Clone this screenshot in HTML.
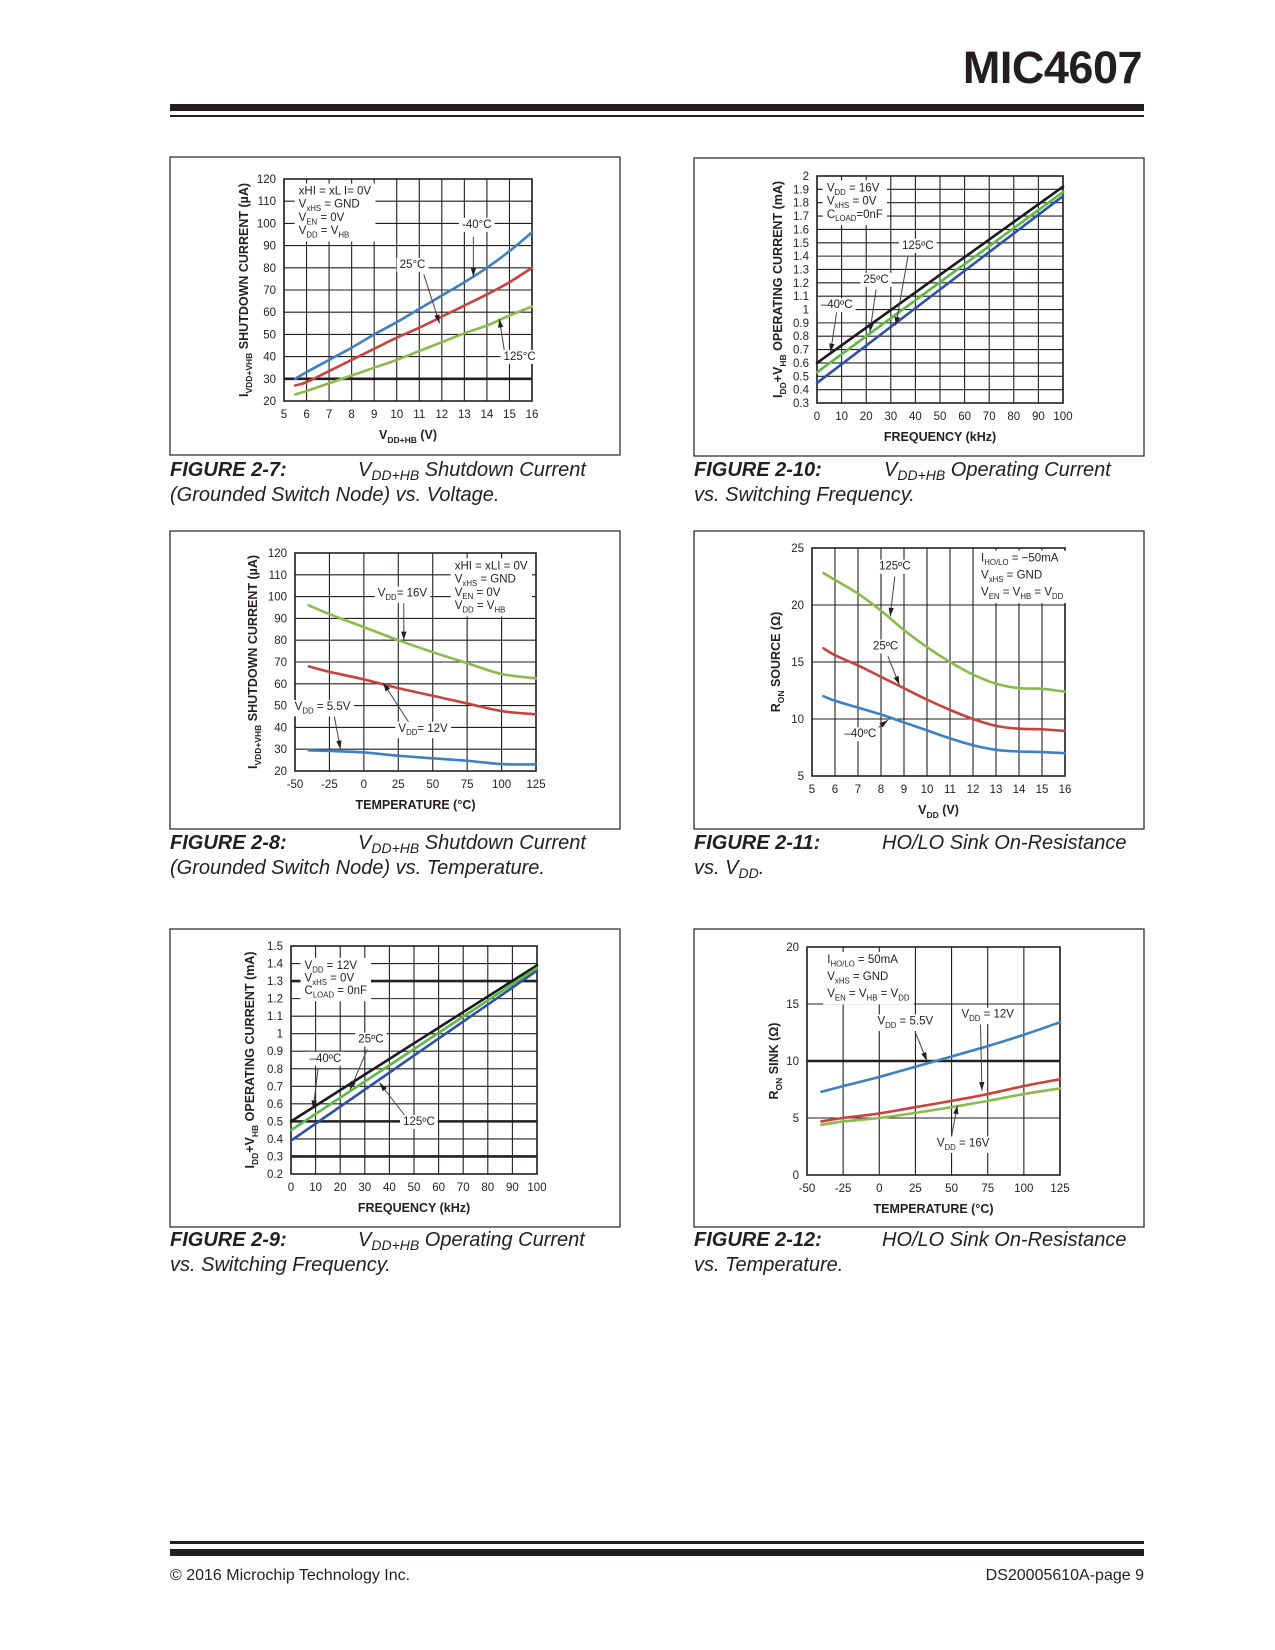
<!DOCTYPE html>
<html><head><meta charset="utf-8">
<style>
html,body{margin:0;padding:0;background:#fff;}
body{width:1275px;height:1650px;position:relative;overflow:hidden;font-family:"Liberation Sans",Arial,sans-serif;color:#231f20;}
.abs{position:absolute;white-space:nowrap;}
.cap{font-size:20px;font-style:italic;}
.cap b{font-weight:bold;}
sub{font-size:0.7em;vertical-align:-0.3em;line-height:0;}
</style></head>
<body>
<div class="abs" style="right:133px;top:42px;font-size:45px;font-weight:bold;letter-spacing:-0.5px;">MIC4607</div>
<div class="abs" style="left:170px;top:104px;width:974px;height:7px;background:#231f20;"></div>
<div class="abs" style="left:170px;top:115px;width:974px;height:2px;background:#231f20;"></div>

<svg id="charts" width="1275" height="1650" style="position:absolute;left:0;top:0;" xmlns="http://www.w3.org/2000/svg"></svg>

<div class="abs cap" style="left:170px;top:459px;"><b>FIGURE 2-7:</b></div>
<div class="abs cap" style="left:358px;top:459px;">V<sub>DD+HB</sub> Shutdown Current</div>
<div class="abs cap" style="left:170px;top:484px;">(Grounded Switch Node) vs. Voltage.</div>

<div class="abs cap" style="left:694px;top:459px;"><b>FIGURE 2-10:</b></div>
<div class="abs cap" style="left:884px;top:459px;">V<sub>DD+HB</sub> Operating Current</div>
<div class="abs cap" style="left:694px;top:484px;">vs. Switching Frequency.</div>

<div class="abs cap" style="left:170px;top:832px;"><b>FIGURE 2-8:</b></div>
<div class="abs cap" style="left:358px;top:832px;">V<sub>DD+HB</sub> Shutdown Current</div>
<div class="abs cap" style="left:170px;top:857px;">(Grounded Switch Node) vs. Temperature.</div>

<div class="abs cap" style="left:694px;top:832px;"><b>FIGURE 2-11:</b></div>
<div class="abs cap" style="left:882px;top:832px;">HO/LO Sink On-Resistance</div>
<div class="abs cap" style="left:694px;top:857px;">vs. V<sub>DD</sub>.</div>

<div class="abs cap" style="left:170px;top:1229px;"><b>FIGURE 2-9:</b></div>
<div class="abs cap" style="left:358px;top:1229px;">V<sub>DD+HB</sub> Operating Current</div>
<div class="abs cap" style="left:170px;top:1254px;">vs. Switching Frequency.</div>

<div class="abs cap" style="left:694px;top:1229px;"><b>FIGURE 2-12:</b></div>
<div class="abs cap" style="left:882px;top:1229px;">HO/LO Sink On-Resistance</div>
<div class="abs cap" style="left:694px;top:1254px;">vs. Temperature.</div>

<div class="abs" style="left:170px;top:1541px;width:974px;height:3px;background:#231f20;"></div>
<div class="abs" style="left:170px;top:1549px;width:974px;height:7px;background:#231f20;"></div>
<div class="abs" style="left:170px;top:1567px;font-size:16px;">© 2016 Microchip Technology Inc.</div>
<div class="abs" style="right:131px;top:1567px;font-size:16px;">DS20005610A-page 9</div>

<script>
// ---- Figure 2-7 data ----
const f7_x = [5.5,6,7,8,9,10,11,12,13,14,15,16];
const f7_m40 = [30,33,38.5,44,50,55.5,61.5,67.5,73.5,80,87.5,96];
const f7_25 = [27,28.5,33.5,38.5,43.5,48.5,53,58,63,68,73.5,80];
const f7_125 = [23,24.5,28,31.5,35,38.5,42.5,46.5,50.5,54,58.5,62.5];
const f7_xticks = [5,6,7,8,9,10,11,12,13,14,15,16];
const f7_yticks = [20,30,40,50,60,70,80,90,100,110,120];
// ---- Figure 2-10 data ----
const f10_x = [0,50,100];
const f10_m40 = [0.6,1.26,1.92];
const f10_25 = [0.53,1.205,1.88];
const f10_125 = [0.45,1.15,1.85];
const f10_xticks = [0,10,20,30,40,50,60,70,80,90,100];
const f10_yticks = [0.3,0.4,0.5,0.6,0.7,0.8,0.9,1,1.1,1.2,1.3,1.4,1.5,1.6,1.7,1.8,1.9,2];
// ---- Figure 2-8 data ----
const f8_x = [-40,-25,0,25,50,75,100,125];
const f8_16v = [96,92,86,80,74.5,69.5,64.5,62.5];
const f8_12v = [68,65.5,62,58,54.5,51,47.5,46];
const f8_55v = [29.5,29.2,28.5,27,25.8,24.7,23.2,23];
const f8_xticks = [-50,-25,0,25,50,75,100,125];
const f8_yticks = [20,30,40,50,60,70,80,90,100,110,120];
// ---- Figure 2-11 data ----
const f11_x = [5.5,6,7,8,9,10,11,12,13,14,15,16];
const f11_125 = [22.8,22.2,21,19.5,17.8,16.3,15,13.9,13.1,12.7,12.65,12.4];
const f11_25 = [16.2,15.6,14.7,13.7,12.7,11.7,10.8,10,9.4,9.15,9.1,8.95];
const f11_m40 = [12,11.6,11,10.4,9.7,9,8.3,7.7,7.3,7.15,7.1,7];
const f11_xticks = [5,6,7,8,9,10,11,12,13,14,15,16];
const f11_yticks = [5,10,15,20,25];
// ---- Figure 2-9 data ----
const f9_x = [0,50,100];
const f9_m40 = [0.5,0.945,1.39];
const f9_25 = [0.45,0.9125,1.375];
const f9_125 = [0.39,0.875,1.36];
const f9_xticks = [0,10,20,30,40,50,60,70,80,90,100];
const f9_yticks = [0.2,0.3,0.4,0.5,0.6,0.7,0.8,0.9,1,1.1,1.2,1.3,1.4,1.5];
// ---- Figure 2-12 data ----
const f12_x = [-40,-25,0,25,50,75,100,125];
const f12_55v = [7.3,7.8,8.6,9.5,10.4,11.3,12.3,13.4];
const f12_12v = [4.7,5.0,5.4,5.95,6.5,7.1,7.8,8.4];
const f12_16v = [4.4,4.7,5.0,5.45,5.95,6.5,7.1,7.6];
const f12_xticks = [-50,-25,0,25,50,75,100,125];
const f12_yticks = [0,5,10,15,20];

const NS = "http://www.w3.org/2000/svg";
const root = document.getElementById('charts');
const FONT = '"Liberation Sans", Arial, sans-serif';
const INK = '#231f20';

function mk(tag, name, parent) {
  const e = document.createElementNS(NS, tag);
  
  
  parent.appendChild(e);
  return e;
}
function attrs(e, a) { for (const k in a) e.setAttribute(k, a[k]); return e; }

function richText(parent, name, x, y, str, size, anchor, weight) {
  const t = mk('text', name, parent);
  attrs(t, {x: x, y: y, 'font-size': size, 'font-family': FONT, fill: INK, 'text-anchor': anchor || 'start', 'font-weight': weight || 'normal'});
  const parts = str.split(/(_\{[^}]*\})/);
  let shifted = false;
  parts.forEach(p => {
    if (!p) return;
    const ts = document.createElementNS(NS, 'tspan');
    if (p.startsWith('_{')) {
      ts.textContent = p.slice(2, -1);
      ts.setAttribute('font-size', size * 0.68);
      ts.setAttribute('dy', size * 0.3);
      shifted = true;
    } else {
      ts.textContent = p;
      if (shifted) { ts.setAttribute('dy', -size * 0.3); shifted = false; }
    }
    t.appendChild(ts);
  });
  return t;
}
function backed(parent, name, x, y, str, size, anchor) {
  const g = mk('g', name + '-group', parent);
  const t = richText(g, name, x, y, str, size, anchor);
  const b = t.getBBox();
  const r = document.createElementNS(NS, 'rect');
  
  
  attrs(r, {x: b.x - 3, y: b.y - 1, width: b.width + 6, height: b.height + 2, fill: '#fff'});
  g.insertBefore(r, t);
  return g;
}
function smoothPath(pts) {
  let d = 'M' + pts[0][0] + ',' + pts[0][1];
  for (let i = 0; i < pts.length - 1; i++) {
    const p0 = pts[i - 1] || pts[i], p1 = pts[i], p2 = pts[i + 1], p3 = pts[i + 2] || p2;
    const c1 = [p1[0] + (p2[0] - p0[0]) / 6, p1[1] + (p2[1] - p0[1]) / 6];
    const c2 = [p2[0] - (p3[0] - p1[0]) / 6, p2[1] - (p3[1] - p1[1]) / 6];
    d += ' C' + c1 + ' ' + c2 + ' ' + p2;
  }
  return d;
}

function chart(cfg) {
  const g = mk('g', cfg.id, root);
  const box = mk('rect', cfg.id + '-frame', g);
  attrs(box, {x: cfg.box[0], y: cfg.box[1], width: cfg.box[2], height: cfg.box[3], fill: '#fff', stroke: INK, 'stroke-width': 1.2});
  const [L, T, R, B] = cfg.plot;
  const xs = v => L + (v - cfg.xr[0]) / (cfg.xr[1] - cfg.xr[0]) * (R - L);
  const ys = v => B - (v - cfg.yr[0]) / (cfg.yr[1] - cfg.yr[0]) * (B - T);
  const grid = mk('g', cfg.id + '-grid', g);
  cfg.xgrid.forEach(v => {
    const l = mk('line', 'x-gridline', grid);
    attrs(l, {x1: xs(v), x2: xs(v), y1: T, y2: B, stroke: INK, 'stroke-width': 1.1});
  });
  cfg.ygrid.forEach(v => {
    const l = mk('line', 'y-gridline', grid);
    const thick = (cfg.thick || []).indexOf(v) >= 0;
    attrs(l, {x1: L, x2: R, y1: ys(v), y2: ys(v), stroke: INK, 'stroke-width': thick ? 2.6 : 1.1});
  });
  const fr = mk('rect', cfg.id + '-plot-border', g);
  attrs(fr, {x: L, y: T, width: R - L, height: B - T, fill: 'none', stroke: INK, 'stroke-width': 1.6});
  cfg.xticks.forEach(v => {
    const t = mk('text', 'x-tick-label', g);
    attrs(t, {x: xs(v), y: B + 17, 'font-size': 11.5, 'font-family': FONT, fill: INK, 'text-anchor': 'middle'});
    t.textContent = String(v);
  });
  cfg.yticks.forEach(v => {
    const t = mk('text', 'y-tick-label', g);
    attrs(t, {x: L - 8, y: ys(v) + 4, 'font-size': 11.5, 'font-family': FONT, fill: INK, 'text-anchor': 'end'});
    t.textContent = String(v);
  });
  richText(g, 'x-axis-title', (L + R) / 2, B + 38, cfg.xtitle, 12.5, 'middle', 'bold');
  const yt = richText(g, 'y-axis-title', 0, 0, cfg.ytitle, 12.5, 'middle', 'bold');
  yt.setAttribute('transform', 'translate(' + (L - cfg.ytoff) + ',' + ((T + B) / 2) + ') rotate(-90)');
  const lg = mk('g', 'conditions-box', g);
  const lines = cfg.cond.map((s, i) => richText(lg, 'condition-text', xs(cfg.condAt[0]), ys(cfg.condAt[1]) + i * cfg.condGap, s, 11.5, 'start'));
  let x0 = 1e9, y0 = 1e9, x1 = -1e9, y1 = -1e9;
  lines.forEach(t => { const b = t.getBBox(); x0 = Math.min(x0, b.x); y0 = Math.min(y0, b.y); x1 = Math.max(x1, b.x + b.width); y1 = Math.max(y1, b.y + b.height); });
  const cb = document.createElementNS(NS, 'rect');
  
  
  attrs(cb, {x: x0 - 4, y: y0 - 2, width: x1 - x0 + 8, height: y1 - y0 + 4, fill: '#fff'});
  lg.insertBefore(cb, lg.firstChild);
  cfg.series.forEach(s => {
    const pts = cfg.x.map((v, i) => [xs(v), ys(s.data[i])]);
    const p = mk('path', s.name, g);
    attrs(p, {d: smoothPath(pts), fill: 'none', stroke: s.color, 'stroke-width': 2.6, 'stroke-linecap': 'round'});
  });
  cfg.notes.forEach(n => {
    const a = mk('line', n.name + '-arrow', g);
    const ax1 = xs(n.from[0]), ay1 = ys(n.from[1]), ax2 = xs(n.to[0]), ay2 = ys(n.to[1]);
    attrs(a, {x1: ax1, y1: ay1, x2: ax2, y2: ay2, stroke: '#444', 'stroke-width': 1});
    const ang = Math.atan2(ay2 - ay1, ax2 - ax1);
    const h = mk('polygon', n.name + '-arrowhead', g);
    const p1 = [ax2 - 9 * Math.cos(ang - 0.3), ay2 - 9 * Math.sin(ang - 0.3)];
    const p2 = [ax2 - 9 * Math.cos(ang + 0.3), ay2 - 9 * Math.sin(ang + 0.3)];
    attrs(h, {points: ax2 + ',' + ay2 + ' ' + p1 + ' ' + p2, fill: INK});
    backed(g, n.name, xs(n.at[0]), ys(n.at[1]), n.text, 11.5, 'middle');
  });
}
function range(a, b, s) { const r = []; for (let v = a; v <= b + 1e-9; v += s) r.push(Math.round(v * 100) / 100); return r; }

const BLUE = '#3d80c3', RED = '#c8423f', GREEN = '#8bbb4b', BLACK = '#1a1a1a', DBLUE = '#3050a8', LGREEN = '#5cb947';

chart({id: 'fig-2-7', box: [170, 157, 450, 298], plot: [284, 179, 532, 401], xr: [5, 16], yr: [20, 120],
  xgrid: range(5, 16, 1), ygrid: range(20, 120, 10), thick: [30], xticks: f7_xticks, yticks: f7_yticks,
  xtitle: 'V_{DD+HB} (V)', ytitle: 'I_{VDD+VHB} SHUTDOWN CURRENT (µA)', ytoff: 36,
  cond: ['xHI = xL I= 0V', 'V_{xHS} = GND', 'V_{EN} = 0V', 'V_{DD} = V_{HB}'], condAt: [5.65, 113], condGap: 13.2,
  x: f7_x, series: [{name: 'series-minus40c', data: f7_m40, color: BLUE}, {name: 'series-25c', data: f7_25, color: RED}, {name: 'series-125c', data: f7_125, color: GREEN}],
  notes: [{name: 'label-minus40c', text: '-40°C', at: [13.55, 98], from: [13.4, 94], to: [13.4, 76]},
          {name: 'label-25c', text: '25°C', at: [10.7, 80], from: [11.2, 77], to: [11.9, 55]},
          {name: 'label-125c', text: '125°C', at: [15.45, 38.5], from: [14.8, 41], to: [14.55, 57]}]});

chart({id: 'fig-2-10', box: [694, 158, 450, 298], plot: [817, 176, 1063, 403], xr: [0, 100], yr: [0.3, 2],
  xgrid: range(0, 100, 10), ygrid: range(0.3, 2, 0.1), xticks: f10_xticks, yticks: f10_yticks,
  xtitle: 'FREQUENCY (kHz)', ytitle: 'I_{DD}+V_{HB} OPERATING CURRENT (mA)', ytoff: 35,
  cond: ['V_{DD} = 16V', 'V_{xHS} = 0V', 'C_{LOAD}=0nF'], condAt: [4, 1.885], condGap: 13.2,
  x: f10_x, series: [{name: 'series-minus40c', data: f10_m40, color: BLACK}, {name: 'series-125c', data: f10_125, color: DBLUE}, {name: 'series-25c', data: f10_25, color: LGREEN}],
  notes: [{name: 'label-minus40c', text: '–40ºC', at: [8, 1.01], from: [8, 0.98], to: [5.5, 0.68]},
          {name: 'label-25c', text: '25ºC', at: [24, 1.2], from: [24, 1.15], to: [21.5, 0.83]},
          {name: 'label-125c', text: '125ºC', at: [41, 1.455], from: [37, 1.4], to: [32, 0.88]}]});

chart({id: 'fig-2-8', box: [170, 531, 450, 298], plot: [295, 553, 536, 771], xr: [-50, 125], yr: [20, 120],
  xgrid: range(-50, 125, 25), ygrid: range(20, 120, 10), xticks: f8_xticks, yticks: f8_yticks,
  xtitle: 'TEMPERATURE (°C)', ytitle: 'I_{VDD+VHB} SHUTDOWN CURRENT (µA)', ytoff: 38,
  cond: ['xHI = xLI = 0V', 'V_{xHS} = GND', 'V_{EN} = 0V', 'V_{DD} = V_{HB}'], condAt: [66, 112.5], condGap: 13.2,
  x: f8_x, series: [{name: 'series-vdd-16v', data: f8_16v, color: GREEN}, {name: 'series-vdd-12v', data: f8_12v, color: RED}, {name: 'series-vdd-5p5v', data: f8_55v, color: BLUE}],
  notes: [{name: 'label-vdd-16v', text: 'V_{DD}= 16V', at: [28, 100], from: [29, 97], to: [29, 80]},
          {name: 'label-vdd-12v', text: 'V_{DD}= 12V', at: [43, 38], from: [34, 41], to: [14, 60.5]},
          {name: 'label-vdd-5p5v', text: 'V_{DD} = 5.5V', at: [-30, 48], from: [-22, 47], to: [-17, 30]}]});

chart({id: 'fig-2-11', box: [694, 531, 450, 298], plot: [812, 548, 1065, 776], xr: [5, 16], yr: [5, 25],
  xgrid: range(5, 16, 1), ygrid: range(5, 25, 5), xticks: f11_xticks, yticks: f11_yticks,
  xtitle: 'V_{DD} (V)', ytitle: 'R_{ON}  SOURCE (Ω)', ytoff: 32,
  cond: ['I_{HO/LO} = −50mA', 'V_{xHS} = GND', 'V_{EN} = V_{HB} = V_{DD}'], condAt: [12.35, 23.8], condGap: 17,
  x: f11_x, series: [{name: 'series-125c', data: f11_125, color: GREEN}, {name: 'series-25c', data: f11_25, color: RED}, {name: 'series-minus40c', data: f11_m40, color: BLUE}],
  notes: [{name: 'label-125c', text: '125ºC', at: [8.6, 23.1], from: [8.6, 22.5], to: [8.4, 19]},
          {name: 'label-25c', text: '25ºC', at: [8.2, 16.1], from: [8.3, 15.5], to: [8.8, 13]},
          {name: 'label-minus40c', text: '–40ºC', at: [7.1, 8.4], from: [7.6, 8.8], to: [8.3, 9.9]}]});

chart({id: 'fig-2-9', box: [170, 929, 450, 298], plot: [291, 946, 537, 1174], xr: [0, 100], yr: [0.2, 1.5],
  xgrid: range(0, 100, 10), ygrid: range(0.2, 1.5, 0.1), thick: [1.3, 0.5, 0.3], xticks: f9_xticks, yticks: f9_yticks,
  xtitle: 'FREQUENCY (kHz)', ytitle: 'I_{DD}+V_{HB} OPERATING CURRENT (mA)', ytoff: 37,
  cond: ['V_{DD} = 12V', 'V_{xHS} = 0V', 'C_{LOAD} = 0nF'], condAt: [5.5, 1.37], condGap: 12.5,
  x: f9_x, series: [{name: 'series-minus40c', data: f9_m40, color: BLACK}, {name: 'series-125c', data: f9_125, color: DBLUE}, {name: 'series-25c', data: f9_25, color: LGREEN}],
  notes: [{name: 'label-minus40c', text: '–40ºC', at: [14, 0.84], from: [11, 0.8], to: [9, 0.57]},
          {name: 'label-25c', text: '25ºC', at: [32.5, 0.95], from: [31, 0.91], to: [24, 0.68]},
          {name: 'label-125c', text: '125ºC', at: [52, 0.48], from: [47, 0.52], to: [36, 0.72]}]});

chart({id: 'fig-2-12', box: [694, 929, 450, 298], plot: [807, 947, 1060, 1175], xr: [-50, 125], yr: [0, 20],
  xgrid: range(-50, 125, 25), ygrid: range(0, 20, 5), thick: [10], xticks: f12_xticks, yticks: f12_yticks,
  xtitle: 'TEMPERATURE (°C)', ytitle: 'R_{ON} SINK (Ω)', ytoff: 29,
  cond: ['I_{HO/LO} = 50mA', 'V_{xHS} = GND', 'V_{EN} = V_{HB} = V_{DD}'], condAt: [-36, 18.6], condGap: 17,
  x: f12_x, series: [{name: 'series-vdd-5p5v', data: f12_55v, color: BLUE}, {name: 'series-vdd-12v', data: f12_12v, color: RED}, {name: 'series-vdd-16v', data: f12_16v, color: GREEN}],
  notes: [{name: 'label-vdd-5p5v', text: 'V_{DD} = 5.5V', at: [18, 13.2], from: [25, 12.5], to: [33, 10]},
          {name: 'label-vdd-12v', text: 'V_{DD} = 12V', at: [75, 13.8], from: [70, 13.2], to: [71, 7.4]},
          {name: 'label-vdd-16v', text: 'V_{DD} = 16V', at: [58, 2.5], from: [50, 3.4], to: [54, 6.1]}]});
</script>
</body></html>
